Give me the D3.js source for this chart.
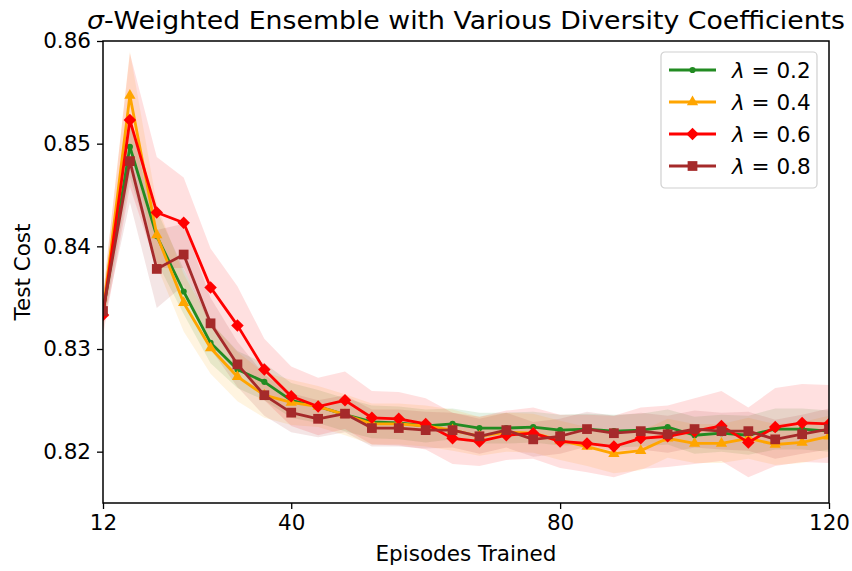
<!DOCTYPE html>
<html>
<head>
<meta charset="utf-8">
<script src="https://cdn.jsdelivr.net/npm/d3@7"></script>
<style>
  body { margin: 0; background: #fff; }
  #mycontent { width: 852px; height: 571px; }
  text { font-family: "DejaVu Sans", sans-serif; fill: #000; }
</style>
</head>
<body>
<div id="mycontent"></div>
<script>
// Episodes on the x axis
var episodes = [12, 16, 20, 24, 28, 32, 36, 40, 44, 48, 52, 56, 60, 64, 68, 72, 76, 80, 84, 88, 92, 96, 100, 104, 108, 112, 116, 120];

// Mean test cost for every diversity coefficient
var lambda02 = [0.8335, 0.8497, 0.8410, 0.8356, 0.8306, 0.8280, 0.8268, 0.8250, 0.8244, 0.8236, 0.8229, 0.8228, 0.8225, 0.8227, 0.8223, 0.8223, 0.8224, 0.8221, 0.8222, 0.8220, 0.8221, 0.8224, 0.8216, 0.8218, 0.8216, 0.8222, 0.8222, 0.8220];
var lambda04 = [0.8335, 0.8547, 0.8411, 0.8345, 0.8301, 0.8273, 0.8255, 0.8248, 0.8244, 0.8236, 0.8227, 0.8227, 0.8225, 0.8221, 0.8215, 0.8219, 0.8218, 0.8211, 0.8205, 0.8198, 0.8201, 0.8213, 0.8208, 0.8208, 0.8213, 0.8207, 0.8209, 0.8215];
var lambda06 = [0.8333, 0.8523, 0.8433, 0.8423, 0.8360, 0.8323, 0.8280, 0.8254, 0.8244, 0.8250, 0.8233, 0.8232, 0.8227, 0.8213, 0.8210, 0.8216, 0.8218, 0.8210, 0.8208, 0.8205, 0.8213, 0.8215, 0.8220, 0.8225, 0.8209, 0.8224, 0.8228, 0.8227];
var lambda08 = [0.8337, 0.8483, 0.8378, 0.8392, 0.8325, 0.8285, 0.8255, 0.8238, 0.8232, 0.8237, 0.8223, 0.8223, 0.8221, 0.8221, 0.8215, 0.8221, 0.8212, 0.8215, 0.8222, 0.8218, 0.8220, 0.8217, 0.8222, 0.8220, 0.8220, 0.8212, 0.8217, 0.8222];

// Spread (shaded band) around each mean
var spread02 = [0.0015, 0.0030, 0.0025, 0.0022, 0.0020, 0.0018, 0.0018, 0.0017, 0.0016, 0.0016, 0.0016, 0.0016, 0.0016, 0.0015, 0.0015, 0.0015, 0.0015, 0.0015, 0.0015, 0.0016, 0.0016, 0.0017, 0.0018, 0.0018, 0.0019, 0.0020, 0.0020, 0.0020];
var spread04 = [0.0018, 0.0043, 0.0030, 0.0028, 0.0025, 0.0024, 0.0022, 0.0022, 0.0020, 0.0020, 0.0020, 0.0020, 0.0020, 0.0020, 0.0019, 0.0019, 0.0019, 0.0019, 0.0019, 0.0019, 0.0019, 0.0019, 0.0019, 0.0019, 0.0020, 0.0020, 0.0020, 0.0020];
var spread06 = [0.0020, 0.0065, 0.0054, 0.0044, 0.0038, 0.0038, 0.0030, 0.0029, 0.0028, 0.0028, 0.0026, 0.0026, 0.0025, 0.0025, 0.0024, 0.0024, 0.0025, 0.0026, 0.0028, 0.0030, 0.0030, 0.0030, 0.0032, 0.0034, 0.0034, 0.0038, 0.0038, 0.0038];
var spread08 = [0.0015, 0.0040, 0.0038, 0.0030, 0.0025, 0.0022, 0.0020, 0.0019, 0.0018, 0.0018, 0.0018, 0.0018, 0.0018, 0.0017, 0.0017, 0.0017, 0.0017, 0.0017, 0.0017, 0.0017, 0.0018, 0.0018, 0.0018, 0.0018, 0.0019, 0.0019, 0.0019, 0.0020];

var labels = ["0.2", "0.4", "0.6", "0.8"];
var xTicks = [12, 40, 80, 120];
var yTicks = [0.82, 0.83, 0.84, 0.85, 0.86];

var series = [
    { name: labels[0], mean: lambda02, spread: spread02, color: "#228b22", marker: "dot" },
    { name: labels[1], mean: lambda04, spread: spread04, color: "#ffa500", marker: "triangle" },
    { name: labels[2], mean: lambda06, spread: spread06, color: "#ff0000", marker: "diamond" },
    { name: labels[3], mean: lambda08, spread: spread08, color: "#a52a2a", marker: "square" }
];

var margin = { top: 41, right: 23, bottom: 68, left: 103 },
    width = 852 - margin.left - margin.right,
    height = 571 - margin.top - margin.bottom;

var xScale = d3.scaleLinear().domain([12, 120]).range([0, width]);
var yScale = d3.scaleLinear().domain([0.815, 0.86]).range([height, 0]);

var svg = d3.select("#mycontent").append("svg")
    .attr("width", 852)
    .attr("height", 571);

var g = svg.append("g")
    .attr("transform", "translate(" + margin.left + "," + margin.top + ")");

g.append("clipPath").attr("id", "clip")
    .append("rect").attr("width", width).attr("height", height);

var plot = g.append("g").attr("clip-path", "url(#clip)");

// marker shapes
function markerPath(type) {
    if (type === "dot") return d3.symbol(d3.symbolCircle, 30)();
    if (type === "triangle") return d3.symbol(d3.symbolTriangle, 55)();
    if (type === "diamond") return d3.symbol(d3.symbolSquare, 78)();
    return d3.symbol(d3.symbolSquare, 95)();
}
function markerRotate(type) {
    return type === "diamond" ? " rotate(45)" : "";
}

// bands first, lines over them
series.forEach(function (s) {
    var area = d3.area()
        .x(function (d, i) { return xScale(episodes[i]); })
        .y0(function (d, i) { return yScale(d - s.spread[i]); })
        .y1(function (d, i) { return yScale(d + s.spread[i]); });
    plot.append("path")
        .datum(s.mean)
        .attr("d", area)
        .attr("fill", s.color)
        .attr("fill-opacity", 0.12)
        .attr("stroke", "none");
});

series.forEach(function (s) {
    var line = d3.line()
        .x(function (d, i) { return xScale(episodes[i]); })
        .y(function (d) { return yScale(d); });
    plot.append("path")
        .datum(s.mean)
        .attr("d", line)
        .attr("fill", "none")
        .attr("stroke", s.color)
        .attr("stroke-width", 2.8)
        .attr("stroke-linejoin", "round");
    plot.selectAll(null)
        .data(s.mean)
        .enter().append("path")
        .attr("d", markerPath(s.marker))
        .attr("transform", function (d, i) {
            return "translate(" + xScale(episodes[i]) + "," + yScale(d) + ")" + markerRotate(s.marker);
        })
        .attr("fill", s.color);
});

// axes
var xAxis = g.append("g")
    .attr("transform", "translate(0," + height + ")")
    .call(d3.axisBottom(xScale).tickValues(xTicks).tickSize(6).tickPadding(6).tickFormat(d3.format("d")));
var yAxis = g.append("g")
    .call(d3.axisLeft(yScale).tickValues(yTicks).tickSize(6).tickPadding(6).tickFormat(d3.format(".2f")));
[xAxis, yAxis].forEach(function (a) {
    a.select(".domain").remove();
    a.selectAll("line").attr("stroke", "#000").attr("stroke-width", 1.3);
    a.selectAll("text").attr("font-size", "21.5px").attr("font-family", "DejaVu Sans");
});

// frame
g.append("rect")
    .attr("width", width).attr("height", height)
    .attr("fill", "none").attr("stroke", "#000").attr("stroke-width", 1.5);

// labels
svg.append("text")
    .attr("x", margin.left + width / 2).attr("y", 561)
    .attr("text-anchor", "middle").attr("font-size", "21.5px")
    .text("Episodes Trained");
svg.append("text")
    .attr("transform", "translate(30," + (margin.top + height / 2) + ") rotate(-90)")
    .attr("text-anchor", "middle").attr("font-size", "21.5px")
    .text("Test Cost");
var title = svg.append("text")
    .attr("x", margin.left + width / 2).attr("y", 29)
    .attr("text-anchor", "middle").attr("font-size", "25px")
    .attr("textLength", 758).attr("lengthAdjust", "spacingAndGlyphs");
title.append("tspan").attr("font-style", "italic").text("σ");
title.append("tspan").text("-Weighted Ensemble with Various Diversity Coefficients");

// legend
var legend = svg.append("g").attr("transform", "translate(661,52)");
legend.append("rect")
    .attr("width", 156).attr("height", 136).attr("rx", 4)
    .attr("fill", "#fff").attr("fill-opacity", 0.8)
    .attr("stroke", "#d0d0d0").attr("stroke-width", 1.2);
series.forEach(function (s, i) {
    var row = legend.append("g").attr("transform", "translate(0," + (18 + i * 32) + ")");
    row.append("line")
        .attr("x1", 8).attr("x2", 55)
        .attr("stroke", s.color).attr("stroke-width", 2.8);
    row.append("path")
        .attr("d", markerPath(s.marker))
        .attr("transform", "translate(31.5,0)" + markerRotate(s.marker))
        .attr("fill", s.color);
    var t = row.append("text").attr("x", 71).attr("y", 8).attr("font-size", "21.5px");
    t.append("tspan").attr("font-style", "italic").text("λ");
    t.append("tspan").text(" = " + s.name);
});
</script>
</body>
</html>
